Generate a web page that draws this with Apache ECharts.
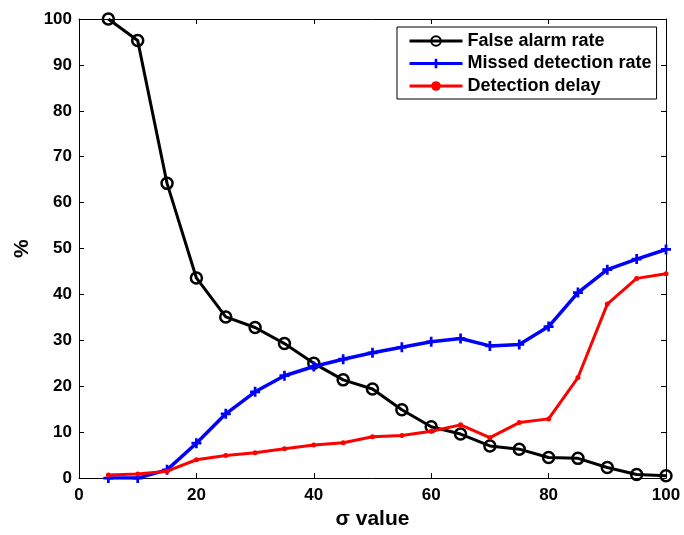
<!DOCTYPE html>
<html>
<head>
<meta charset="utf-8">
<script src="https://cdn.jsdelivr.net/npm/echarts@6/dist/echarts.min.js"></script>
<style>
  html, body { margin: 0; padding: 0; background: #fff; }
  #chart { width: 684px; height: 535px; }
</style>
</head>
<body>
<div id="chart"></div>
<script>
// sigma values on the x axis
const sigmaValues = [5, 10, 15, 20, 25, 30, 35, 40, 45, 50, 55, 60, 65, 70, 75, 80, 85, 90, 95, 100];

// percentages per sigma value
const falseAlarmRate = [100, 95.3, 64.2, 43.6, 35.1, 32.8, 29.3, 25.0, 21.4, 19.4, 14.9, 11.2, 9.6, 7.0, 6.3, 4.5, 4.3, 2.3, 0.8, 0.5];
const missedDetectionRate = [0, 0, 1.8, 7.6, 14.0, 18.8, 22.3, 24.3, 25.9, 27.3, 28.5, 29.7, 30.4, 28.8, 29.1, 33.0, 40.4, 45.4, 47.7, 49.8];
const detectionDelay = [0.7, 0.9, 1.5, 4.0, 4.9, 5.5, 6.4, 7.2, 7.7, 9.0, 9.3, 10.2, 11.6, 8.8, 12.1, 12.9, 21.9, 37.9, 43.5, 44.5];

const seriesNames = ['False alarm rate', 'Missed detection rate', 'Detection delay'];

const pair = (ys) => sigmaValues.map((x, i) => [x, ys[i]]);

const plusPath = 'path://M4,0H7V4H11V7H7V11H4V7H0V4H4Z';
const font = 'Liberation Sans, Arial, sans-serif';

const chart = echarts.init(document.getElementById('chart'), null, { renderer: 'canvas' });

// all four axes draw one side of the box, with ticks pointing into the plot
const frameAxis = {
  axisLine: { show: true, onZero: false, lineStyle: { color: '#000', width: 1 } },
  axisTick: { show: true, inside: true, length: 5, lineStyle: { color: '#000', width: 1 } },
  splitLine: { show: false }
};

chart.setOption({
  animation: false,
  backgroundColor: '#fff',
  grid: { left: 79, right: 18, top: 19, bottom: 55 },
  legend: {
    data: seriesNames,
    orient: 'vertical',
    left: 397,
    top: 27,
    padding: [5, 5, 4, 11],
    itemGap: 4.5,
    itemWidth: 53,
    itemHeight: 12,
    backgroundColor: '#fff',
    borderColor: '#000',
    borderWidth: 1,
    borderRadius: 0,
    lineStyle: { width: 3 },
    textStyle: { fontFamily: font, fontWeight: 'bold', fontSize: 18, color: '#000' }
  },
  xAxis: [
    Object.assign({
      type: 'value', min: 0, max: 100, interval: 20, position: 'bottom',
      name: 'σ value', nameLocation: 'middle', nameGap: 30,
      nameTextStyle: { fontFamily: font, fontWeight: 'bold', fontSize: 21, color: '#000' },
      axisLabel: { fontFamily: font, fontWeight: 'bold', fontSize: 17, color: '#000', margin: 9 }
    }, frameAxis),
    Object.assign({
      type: 'value', min: 0, max: 100, interval: 20, position: 'top',
      axisLabel: { show: false }
    }, frameAxis)
  ],
  yAxis: [
    Object.assign({
      type: 'value', min: 0, max: 100, interval: 10, position: 'left',
      name: '%', nameLocation: 'middle', nameGap: 41, nameRotate: 90,
      nameTextStyle: { fontFamily: font, fontWeight: 'bold', fontSize: 21, color: '#000' },
      axisLabel: { fontFamily: font, fontWeight: 'bold', fontSize: 17, color: '#000', margin: 7 }
    }, frameAxis),
    Object.assign({
      type: 'value', min: 0, max: 100, interval: 10, position: 'right',
      axisLabel: { show: false }
    }, frameAxis)
  ],
  series: [
    {
      name: seriesNames[0], type: 'line', data: pair(falseAlarmRate),
      symbol: 'circle', symbolSize: 11,
      lineStyle: { color: '#000', width: 3 },
      itemStyle: { color: 'rgba(255,255,255,0)', borderColor: '#000', borderWidth: 2.5 },
      z: 1
    },
    {
      name: seriesNames[1], type: 'line', data: pair(missedDetectionRate),
      symbol: plusPath, symbolSize: 10,
      lineStyle: { color: '#0000ff', width: 3.5 },
      itemStyle: { color: '#0000ff' },
      z: 2
    },
    {
      name: seriesNames[2], type: 'line', data: pair(detectionDelay),
      symbol: 'circle', symbolSize: 5,
      lineStyle: { color: '#ff0000', width: 3 },
      itemStyle: { color: '#ff0000' },
      z: 3
    }
  ]
});
</script>
</body>
</html>
